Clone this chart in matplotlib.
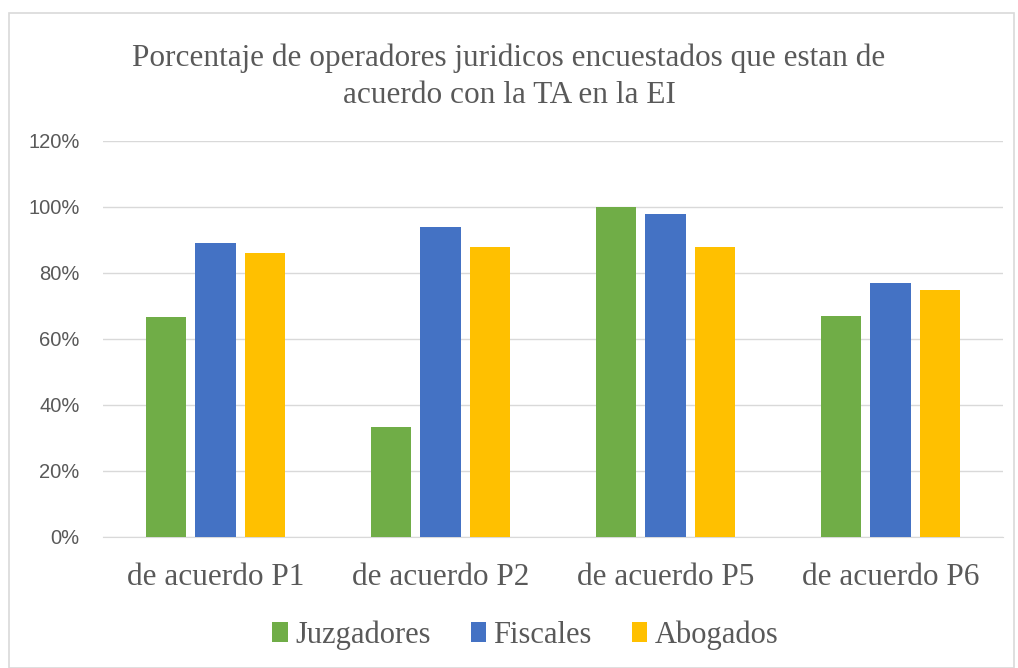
import matplotlib
matplotlib.use("Agg")
import matplotlib.pyplot as plt
import numpy as np
from matplotlib.patches import Rectangle

categories = ["de acuerdo P1", "de acuerdo P2", "de acuerdo P5", "de acuerdo P6"]
series_names = ["Juzgadores", "Fiscales", "Abogados"]
juzgadores = [0.667, 0.333, 1.00, 0.67]
fiscales = [0.89, 0.94, 0.98, 0.77]
abogados = [0.86, 0.88, 0.88, 0.75]
colors = ["#70AD47", "#4472C4", "#FFC000"]
yticks = [0, 0.2, 0.4, 0.6, 0.8, 1.0, 1.2]
ytick_labels = ["0%", "20%", "40%", "60%", "80%", "100%", "120%"]

txt = "#595959"
fig = plt.figure(figsize=(10.18, 6.68), dpi=100)
fig.patches.append(Rectangle((9/1018, 0.0), (1014-9)/1018, 1 - 13/668 - 0.0,
                             transform=fig.transFigure, fill=False,
                             edgecolor="#D9D9D9", linewidth=1.2))
ax = fig.add_axes([103/1018, 1 - 537/668, 900/1018, (537-141)/668])

x = np.arange(len(categories))
w = 0.178
off = 0.222
for i, (vals, name) in enumerate(zip([juzgadores, fiscales, abogados], series_names)):
    ax.bar(x + (i - 1) * off, vals, w, color=colors[i], label=name, zorder=3)

ax.set_xlim(-0.5, len(categories) - 0.5)
ax.set_ylim(0, 1.2)
ax.set_yticks(yticks)
ax.set_yticklabels(ytick_labels, fontsize=14.5, color=txt, family="Liberation Sans")
ax.set_xticks(x)
ax.set_xticklabels(categories, fontsize=22.5, color=txt, family="Liberation Serif")
ax.tick_params(axis="both", length=0)
ax.tick_params(axis="x", pad=19)
ax.tick_params(axis="y", pad=17)
ax.grid(axis="y", color="#D9D9D9", linewidth=1, zorder=0)
for s in ["top", "right", "left"]:
    ax.spines[s].set_visible(False)
ax.spines["bottom"].set_color("#D9D9D9")

fig.text(0.5, 1 - 77/668, "Porcentaje de operadores juridicos encuestados que estan de\nacuerdo con la TA en la EI",
         ha="center", va="center", fontsize=22.5, color=txt, family="Liberation Serif", linespacing=1.38)

leg = fig.legend(loc="center", bbox_to_anchor=(0.516, 1 - 635/668), ncol=3, frameon=False,
                 prop={"family": "Liberation Serif", "size": 22}, handlelength=0.5, handleheight=0.65,
                 handletextpad=0.25, columnspacing=1.3)
for t in leg.get_texts():
    t.set_color(txt)

fig.savefig("out.png", dpi=100)
